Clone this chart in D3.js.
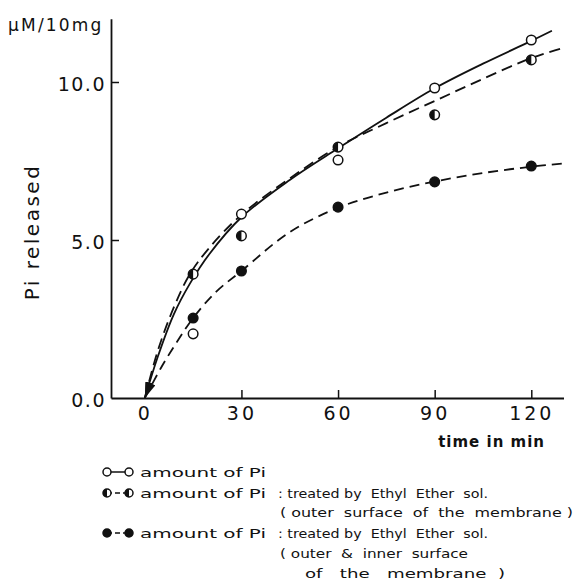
<!DOCTYPE html>
<html>
<head>
<meta charset="utf-8">
<script src="https://cdn.jsdelivr.net/npm/d3@7"></script>
<style>
  body { margin: 0; background: #fff; }
  svg { display: block; }
  text { font-family: "DejaVu Sans", sans-serif; fill: #111; }
</style>
</head>
<body>
<div id="chart"></div>
<script>
// measured points (min, µM/10mg)
const times = [15, 30, 60, 90, 120]
const piAmount = [2.03, 5.82, 7.53, 9.81, 11.33]          // open circles
const piOuter = [3.92, 5.13, 7.94, 8.96, 10.7]            // half filled
const piOuterInner = [2.53, 4.02, 6.04, 6.84, 7.34]       // filled

// hand drawn fit curves
const fitAmount = [[0, 0], [4, 1.3], [9, 2.65], [14, 3.62], [20, 4.55], [30, 5.72], [45, 6.9], [60, 7.9], [75, 8.87], [90, 9.8], [105, 10.58], [120, 11.3], [126.4, 11.62]]
const fitOuter = [[0, 0], [4.1, 1.52], [9.3, 2.94], [14, 3.92], [20, 4.75], [30, 5.8], [45, 6.95], [60, 7.95], [75, 8.7], [90, 9.4], [105, 10.1], [120, 10.76], [129, 11.05]]
const fitOuterInner = [[0, 0], [5, 0.95], [10, 1.78], [15, 2.53], [22, 3.35], [30, 4.02], [45, 5.25], [60, 6.02], [75, 6.5], [90, 6.85], [105, 7.12], [120, 7.32], [129.8, 7.42]]

const xTicks = [0, 30, 60, 90, 120]
const yTicks = [0, 5, 10]

const legendLabel = "amount of Pi"
const legendTreated = ": treated by  Ethyl  Ether  sol."
const legendOuter = "( outer  surface  of  the  membrane )"
const legendBoth = ["( outer  &  inner  surface", "of   the   membrane  )"]

const width = 576
const height = 581
const marginLeft = 111
const axisRight = 563.5
const axisBottom = 398
const axisTop = 18.8

const svg = d3.select("#chart")
    .append("svg")
    .attr("width", width)
    .attr("height", height)
    .attr("viewBox", [0, 0, width, height])

const x = d3.scaleLinear([-10.5, 130], [marginLeft, axisRight])
const y = d3.scaleLinear([0, 12], [axisBottom, axisTop])

// arrow head for the curve starts
svg.append("defs").append("marker")
    .attr("id", "arrow")
    .attr("viewBox", "0 0 10 10")
    .attr("preserveAspectRatio", "none")
    .attr("refX", 10)
    .attr("refY", 5)
    .attr("markerWidth", 16)
    .attr("markerHeight", 7)
    .attr("markerUnits", "userSpaceOnUse")
    .attr("orient", "auto-start-reverse")
    .append("path")
    .attr("d", "M0,0L10,5L0,10Z")
    .attr("fill", "#111")

// axes
svg.append("g")
    .attr("transform", `translate(0,${axisBottom})`)
    .call(d3.axisBottom(x).tickValues(xTicks).tickSizeInner(-8).tickSizeOuter(0).tickPadding(8.5).tickFormat(d3.format("d")))
    .call(g => g.select(".domain").attr("stroke", "#111").attr("stroke-width", 1.8))
    .call(g => g.selectAll(".tick line").attr("stroke", "#111").attr("stroke-width", 1.5).filter(d => d === 0).remove())
    .call(g => g.selectAll(".tick text").attr("font-size", 19).attr("letter-spacing", 3).attr("fill", "#111"))
    .call(g => g.attr("font-family", null))

svg.append("g")
    .attr("transform", `translate(${marginLeft},0)`)
    .call(d3.axisLeft(y).tickValues(yTicks).tickSizeInner(-8).tickSizeOuter(0).tickPadding(5).tickFormat(d3.format(".1f")))
    .call(g => g.select(".domain").attr("stroke", "#111").attr("stroke-width", 1.8))
    .call(g => g.selectAll(".tick line").attr("stroke", "#111").attr("stroke-width", 1.5).filter(d => d === 0).remove())
    .call(g => g.selectAll(".tick text").attr("font-size", 19).attr("letter-spacing", 1.5).attr("dy", "0.45em").attr("fill", "#111"))
    .call(g => g.attr("font-family", null))

// axis titles
svg.append("text")
    .attr("x", 8)
    .attr("y", 31)
    .attr("font-size", 17)
    .attr("letter-spacing", 2.2)
    .text("µM/10mg")

svg.append("text")
    .attr("transform", `translate(39,232) rotate(-90)`)
    .attr("text-anchor", "middle")
    .attr("font-size", 20)
    .attr("letter-spacing", 2.5)
    .text("Pi  released")

svg.append("text")
    .attr("x", 545)
    .attr("y", 447)
    .attr("text-anchor", "end")
    .attr("font-size", 15)
    .attr("font-weight", "bold")
    .attr("letter-spacing", 1)
    .text("time in min")

// fit curves
const line = d3.line()
    .x(d => x(d[0]))
    .y(d => y(d[1]))
    .curve(d3.curveCatmullRom.alpha(0.5))

const curves = [
    {data: fitAmount, dash: null},
    {data: fitOuter, dash: "11,6"},
    {data: fitOuterInner, dash: "10,6"}
]

svg.append("g")
    .attr("fill", "none")
    .attr("stroke", "#111")
    .attr("stroke-width", 1.8)
    .selectAll("path")
    .data(curves)
    .join("path")
    .attr("d", d => line(d.data))
    .attr("stroke-dasharray", d => d.dash)
    .attr("marker-start", "url(#arrow)")

// markers
const drawSymbol = (g, kind, cx, cy, r) => {
    if (kind === "half") {
        g.append("circle").attr("cx", cx).attr("cy", cy).attr("r", r)
            .attr("fill", "#fff").attr("stroke", "#111").attr("stroke-width", 1.5)
        g.append("path")
            .attr("d", `M${cx},${cy - r}A${r},${r} 0 0 0 ${cx},${cy + r}Z`)
            .attr("fill", "#111")
    } else {
        g.append("circle").attr("cx", cx).attr("cy", cy).attr("r", r)
            .attr("fill", kind === "filled" ? "#111" : "#fff")
            .attr("stroke", "#111").attr("stroke-width", 1.5)
    }
}

const series = [
    {kind: "open", values: piAmount},
    {kind: "half", values: piOuter},
    {kind: "filled", values: piOuterInner}
]

const pts = svg.append("g")
series.forEach(s => {
    times.forEach((t, i) => drawSymbol(pts, s.kind, x(t), y(s.values[i]), 4.8))
})

// legend
const legend = svg.append("g")
const legendText = (tx, ty, len, txt) => legend.append("text")
    .attr("x", tx)
    .attr("y", ty)
    .attr("font-size", 13)
    .attr("textLength", len)
    .attr("lengthAdjust", "spacingAndGlyphs")
    .style("white-space", "pre")
    .text(txt)

const legendRows = [
    {kind: "open", dash: null, cy: 472},
    {kind: "half", dash: "5,3", cy: 493},
    {kind: "filled", dash: "5,3", cy: 533}
]
legendRows.forEach(row => {
    legend.append("line")
        .attr("x1", 107).attr("x2", 129)
        .attr("y1", row.cy).attr("y2", row.cy)
        .attr("stroke", "#111")
        .attr("stroke-width", 1.5)
        .attr("stroke-dasharray", row.dash)
    drawSymbol(legend, row.kind, 107, row.cy, 4)
    drawSymbol(legend, row.kind, 129, row.cy, 4)
    legendText(140, row.cy + 5, 126, legendLabel)
    if (row.kind !== "open") legendText(278, row.cy + 5, 210, legendTreated)
})
legendText(280, 517, 293, legendOuter)
legendText(280, 558, 188, legendBoth[0])
legendText(305, 578, 200, legendBoth[1])
</script>
</body>
</html>
